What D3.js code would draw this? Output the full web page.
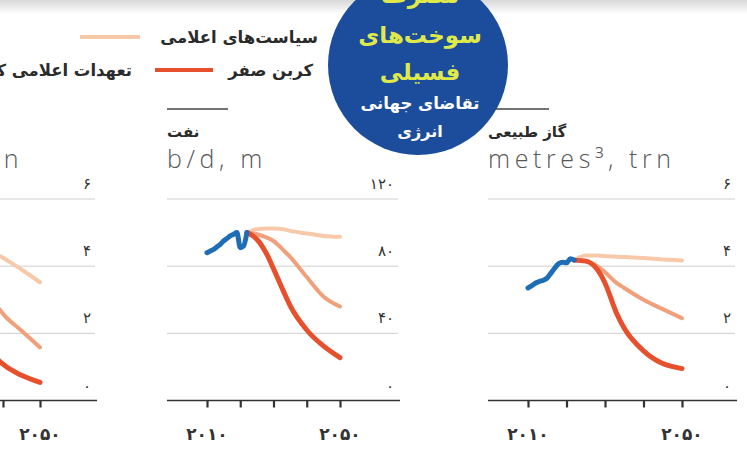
<!DOCTYPE html>
<html><head><meta charset="utf-8">
<script src="https://cdn.jsdelivr.net/npm/d3@7"></script>
<style>
html,body{margin:0;padding:0;background:#fff;overflow:hidden}
svg{display:block}
</style></head>
<body>
<svg id="chart" width="747" height="461"></svg>
<script>
// ---------- DATA ----------
const histYears = [2010,2011,2012,2013,2014,2015,2016,2017,2018,2019,2020,2021,2022];
const projYears = [2022,2025,2028,2030,2033,2035,2040,2045,2050];

const coalHistory = [5.1,5.4,5.5,5.6,5.6,5.4,5.3,5.35,5.45,5.4,5.2,5.5,5.6];
const coalStated  = [5.6,5.5,5.2,5.0,4.8,4.6,4.25,3.9,3.52];
const coalPledges = [5.6,5.3,4.8,4.4,3.8,3.4,2.58,2.08,1.58];
const coalNetZero = [5.6,4.8,3.6,2.9,2.1,1.7,1.08,0.75,0.54];

const oilHistory = [88,89,90,91.5,93,95,96.5,98,99,100,91,92,100];
const oilStated  = [100,102,102.5,102.5,102,101,99.5,98,97.5];
const oilPledges = [100,99,97,95,89.5,85.5,73.5,62,56];
const oilNetZero = [100,96,87,78.5,65,56.5,42,32.5,25.5];

const gasHistory = [3.35,3.42,3.5,3.55,3.58,3.65,3.8,3.95,4.08,4.12,4.1,4.22,4.18];
const gasStated  = [4.18,4.32,4.32,4.3,4.28,4.27,4.24,4.2,4.17];
const gasPledges = [4.18,4.15,4.0,3.82,3.5,3.35,3.0,2.72,2.45];
const gasNetZero = [4.18,4.15,3.9,3.5,2.6,2.15,1.48,1.1,0.95];

const coalTicks = [0,2,4,6];
const oilTicks  = [0,40,80,120];
const gasTicks  = [0,2,4,6];
const xTickYears = [2010,2020,2030,2040,2050];
const xLabelYears = [2010,2050];

const panelTitles = ["زغال‌سنگ","نفت","گاز طبیعی"];
const panelUnits  = ["tonnes, trn","b/d, m","metres³, trn"];
const legendLabels = ["سیاست‌های اعلامی","کربن صفر","تعهدات اعلامی کشورها"];
const badgeLines = ["مصرف","سوخت‌های","فسیلی","تقاضای جهانی","انرژی"];

// ---------- STYLE ----------
const C = {blue:"#1f6db4", stated:"#f7c9a8", pledges:"#f0a07b", netzero:"#e7502d",
           grid:"#cfcfcf", axis:"#333", text:"#2b2b2b", unit:"#585858",
           badge:"#1c4d9d", badgeText:"#dfea4a"};
const FA = "'DejaVu Sans', sans-serif";
const toFa = s => String(s).replace(/\d/g, d => "۰۱۲۳۴۵۶۷۸۹"[+d]);

const svg = d3.select("#chart");

// faint scan shading at top
const defs = svg.append("defs");
const g0 = defs.append("linearGradient").attr("id","topShade").attr("x1",0).attr("x2",0).attr("y1",0).attr("y2",1);
g0.append("stop").attr("offset","0%").attr("stop-color","#d8d8d8");
g0.append("stop").attr("offset","100%").attr("stop-color","#ffffff");
svg.append("rect").attr("x",0).attr("y",0).attr("width",747).attr("height",14).attr("fill","url(#topShade)");

const panels = [
  {left:-150, right:97, x2010:-108, x2050:40, max:6, ticks:coalTicks,
   hist:coalHistory, stated:coalStated, pledges:coalPledges, netzero:coalNetZero},
  {left:167, right:400, x2010:207, x2050:340, max:120, ticks:oilTicks,
   hist:oilHistory, stated:oilStated, pledges:oilPledges, netzero:oilNetZero},
  {left:488, right:737, x2010:528, x2050:682, max:6, ticks:gasTicks,
   hist:gasHistory, stated:gasStated, pledges:gasPledges, netzero:gasNetZero}
];

const yTop = 199, yBottom = 400.5;

panels.forEach((p, i) => {
  const x = d3.scaleLinear().domain([2010,2050]).range([p.x2010, p.x2050]);
  const y = d3.scaleLinear().domain([0,p.max]).range([yBottom, yTop]);
  const g = svg.append("g");

  // title rule, title, unit
  g.append("line").attr("x1",p.left).attr("x2",p.left+61).attr("y1",109).attr("y2",109)
    .attr("stroke","#444").attr("stroke-width",1.3);
  g.append("text").attr("x",p.left).attr("y",137).attr("font-family",FA).attr("font-weight","bold")
    .attr("font-size",15).attr("fill",C.text).attr("text-anchor","start").attr("direction","ltr")
    .text(panelTitles[i]);
  g.append("text").attr("x",p.left).attr("y",168).attr("font-family","'Open Sans', sans-serif")
    .attr("font-weight",300).attr("font-size",25).attr("letter-spacing",4.6).attr("fill",C.unit)
    .text(panelUnits[i]);

  // gridlines
  g.selectAll(".grid").data(p.ticks.filter(t => t > 0)).join("line")
    .attr("x1",p.left).attr("x2",p.right-2)
    .attr("y1",d => y(d)).attr("y2",d => y(d))
    .attr("stroke",C.grid).attr("stroke-width",1);

  // y labels
  g.selectAll(".ylab").data(p.ticks).join("text")
    .attr("x",p.right-6).attr("y",d => y(d)-10)
    .attr("text-anchor","end").attr("font-family",FA).attr("font-size",15)
    .attr("letter-spacing",2).attr("fill","#333")
    .text(d => toFa(d));

  // x axis
  const xAxis = d3.axisBottom(x).tickValues(xTickYears).tickSize(7).tickFormat("");
  const ax = g.append("g").attr("transform",`translate(0,${yBottom})`).call(xAxis);
  ax.select(".domain").remove();
  ax.selectAll(".tick line").attr("stroke",C.axis).attr("stroke-width",2.2);
  g.append("line").attr("x1",p.left).attr("x2",p.right).attr("y1",yBottom).attr("y2",yBottom)
    .attr("stroke",C.axis).attr("stroke-width",1.6);
  g.selectAll(".xlab").data(xLabelYears).join("text")
    .attr("x",d => x(d)).attr("y",440).attr("text-anchor","middle")
    .attr("font-family",FA).attr("font-weight","bold").attr("font-size",17)
    .attr("letter-spacing",6).attr("fill","#333")
    .text(d => toFa(d));

  const line = d3.line().curve(d3.curveMonotoneX).x(d => x(d[0])).y(d => y(d[1]));
  const proj = arr => projYears.map((yr,k) => [yr, arr[k]]);
  const series = [
    {data:proj(p.stated), color:C.stated, w:4},
    {data:proj(p.pledges), color:C.pledges, w:4},
    {data:proj(p.netzero), color:C.netzero, w:5},
    {data:histYears.map((yr,k) => [yr, p.hist[k]]), color:C.blue, w:5}
  ];
  g.selectAll(".series").data(series).join("path")
    .attr("d",d => line(d.data)).attr("fill","none")
    .attr("stroke",d => d.color).attr("stroke-width",d => d.w)
    .attr("stroke-linecap","round").attr("stroke-linejoin","round");
});

// ---------- LEGEND ----------
const legend = [
  {label:legendLabels[0], color:C.stated, tx:318, ty:43, lx1:80, lx2:140, ly:37},
  {label:legendLabels[1], color:C.netzero, tx:313, ty:76, lx1:155, lx2:213, ly:70},
  {label:legendLabels[2], color:C.pledges, tx:132, ty:76, lx1:-80, lx2:-22, ly:70}
];
const lg = svg.append("g");
lg.selectAll("line").data(legend).join("line")
  .attr("x1",d => d.lx1).attr("x2",d => d.lx2).attr("y1",d => d.ly).attr("y2",d => d.ly)
  .attr("stroke",d => d.color).attr("stroke-width",4);
lg.selectAll("text").data(legend).join("text")
  .attr("x",d => d.tx).attr("y",d => d.ty).attr("text-anchor","end")
  .attr("font-family",FA).attr("font-weight","bold").attr("font-size",16.5).attr("fill",C.text)
  .text(d => d.label);

// ---------- BADGE ----------
const bx = 418, by = 65;
svg.append("circle").attr("cx",bx).attr("cy",by).attr("r",90).attr("fill",C.badge);
const badge = [
  {t:badgeLines[0], y:3, s:23, c:C.badgeText},
  {t:badgeLines[1], y:43, s:23, c:C.badgeText},
  {t:badgeLines[2], y:80, s:23, c:C.badgeText},
  {t:badgeLines[3], y:109, s:16.5, c:"#fff"},
  {t:badgeLines[4], y:137, s:16, c:"#fff"}
];
svg.append("g").selectAll("text").data(badge).join("text")
  .attr("x",bx+2).attr("y",d => d.y).attr("text-anchor","middle")
  .attr("font-family",FA).attr("font-weight","bold").attr("font-size",d => d.s)
  .attr("fill",d => d.c).text(d => d.t);
</script>
</body></html>
